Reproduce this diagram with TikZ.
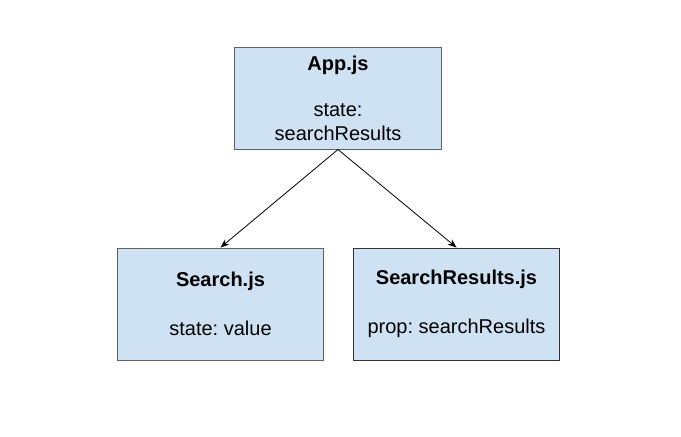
\documentclass[tikz,border=0pt]{standalone}
\usepackage{fontspec}
\setmainfont{Liberation Sans}
\usepackage{tikz}
\usetikzlibrary{arrows,arrows.meta,positioning}
\definecolor{boxblue}{HTML}{CFE2F3}
\definecolor{boxline}{HTML}{5F6368}
\frenchspacing

\begin{document}
\begin{tikzpicture}[
  x=0.75pt, y=-0.75pt,
  comp/.style={draw=#1, line width=0.75pt, fill=boxblue, minimum width=155pt, align=center, inner sep=0pt, font=\fontsize{15}{17.5}\selectfont},
  arr/.style={-{Stealth[length=6.5pt,width=5pt]}, line width=0.6pt},
]
\useasboundingbox (0,0) rectangle (681,436);
\node[comp=boxline, minimum height=76.5pt] (app) at (338,98) {\textbf{App.js}\\[17.5pt]state:\\searchResults};
\node[comp=boxline, minimum height=84pt] (search) at (220.5,304) {\textbf{Search.js}\\[19pt]state: value};
\node[comp=black!80, minimum height=84pt] (results) at (456.5,304) {\textbf{SearchResults.js}\\[19pt]prop: searchResults};
\draw[arr] (app.south) -- (search.north);
\draw[arr] (app.south) -- (results.north);
\end{tikzpicture}
\end{document}
